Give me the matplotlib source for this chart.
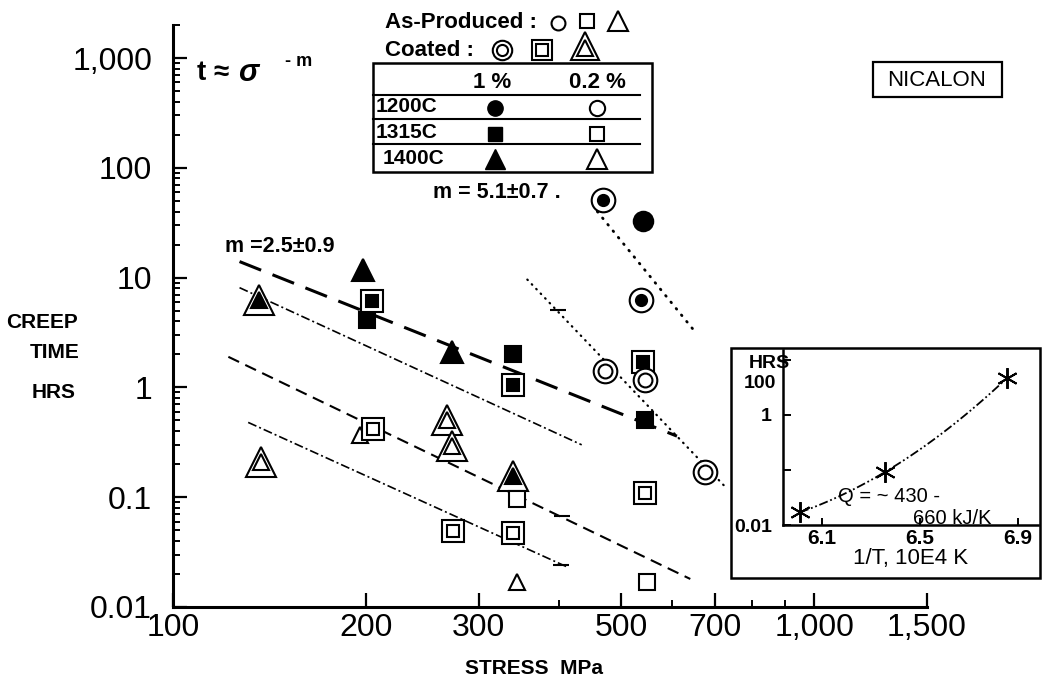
import numpy as np
import matplotlib
matplotlib.use('Agg')
import matplotlib.pyplot as plt
from matplotlib.ticker import FixedLocator, FixedFormatter, NullFormatter, LogLocator
from matplotlib.patches import Rectangle

plt.rcParams['font.family'] = ['Liberation Sans', 'DejaVu Sans']

W, H = 1043, 686

# ---------------- data (stress MPa, creep time hrs, coated flag) ----------------
# 1200C, 1 % strain (filled circles)
c1200_1_x = [541, 469, 537]
c1200_1_y = [33, 51, 6.3]
c1200_1_coated = [False, True, True]
# 1200C, 0.2 % strain (open circles)
c1200_02_x = [472, 545, 676]
c1200_02_y = [1.4, 1.18, 0.17]
c1200_02_coated = [True, True, True]
# 1315C, 1 % (filled squares)
c1315_1_x = [201, 204, 339, 339, 541, 545]
c1315_1_y = [4.1, 6.1, 2.0, 1.06, 1.7, 0.51]
c1315_1_coated = [False, True, False, True, True, False]
# 1315C, 0.2 % (open squares)
c1315_02_x = [205, 344, 273, 339, 545, 548]
c1315_02_y = [0.42, 0.096, 0.049, 0.047, 0.11, 0.017]
c1315_02_coated = [True, False, True, True, True, False]
# 1400C, 1 % (filled triangles)
c1400_1_x = [198, 272, 136, 339]
c1400_1_y = [11.8, 2.1, 6.3, 0.155]
c1400_1_coated = [False, False, True, True]
# 1400C, 0.2 % (open triangles)
c1400_02_x = [137, 196, 268, 272, 344]
c1400_02_y = [0.21, 0.37, 0.51, 0.29, 0.017]
c1400_02_coated = [True, False, True, True, False]

# fitted power-law lines (endpoints)
fit_m25_x = [127, 611];  fit_m25_y = [14, 0.36]
fit_dd1_x = [127, 434];  fit_dd1_y = [8.1, 0.30]
fit_ds_x = [122, 641];   fit_ds_y = [1.9, 0.018]
fit_dd2_x = [131, 413];  fit_dd2_y = [0.48, 0.023]
fit_m51_x = [459, 647];  fit_m51_y = [40, 3.4]
fit_dt2_x = [357, 731];  fit_dt2_y = [9.6, 0.12]
# small bar marks on lines
bar_x = [398, 405, 403]
bar_y = [5.1, 0.068, 0.024]

# inset: activation plot
inv_T = [6.01, 6.357, 6.855]
inset_hrs = [0.017, 0.092, 4.7]

x_ticks = [100, 200, 300, 500, 700, 1000, 1500]
x_ticklabels = ['100', '200', '300', '500', '700', '1,000', '1,500']
x_minor = [400, 600, 800, 900]
y_ticks = [0.01, 0.1, 1, 10, 100, 1000]
y_ticklabels = ['0.01', '0.1', '1', '10', '100', '1,000']

# ---------------- figure ----------------
fig = plt.figure(figsize=(W / 100, H / 100), dpi=100)
ax = fig.add_axes([173 / W, 1 - 607 / H, (927 - 173) / W, (607 - 25) / H], zorder=1)
ax.set_xscale('log'); ax.set_yscale('log')
ax.set_xlim(100, 1500); ax.set_ylim(0.01, 2000)
for s in ['top', 'right']:
    ax.spines[s].set_visible(False)
for s in ['left', 'bottom']:
    ax.spines[s].set_linewidth(2.2)
ax.xaxis.set_major_locator(FixedLocator(x_ticks))
ax.xaxis.set_major_formatter(FixedFormatter(x_ticklabels))
ax.xaxis.set_minor_locator(FixedLocator(x_minor))
ax.xaxis.set_minor_formatter(NullFormatter())
ax.yaxis.set_major_locator(FixedLocator(y_ticks))
ax.yaxis.set_major_formatter(FixedFormatter(y_ticklabels))
ax.yaxis.set_minor_locator(LogLocator(base=10, subs=np.arange(2, 10)))
ax.yaxis.set_minor_formatter(NullFormatter())
ax.tick_params(axis='both', which='major', direction='in', length=10, width=1.6, labelsize=23)
ax.tick_params(axis='both', which='minor', direction='in', length=5, width=1.4)
ax.tick_params(axis='x', which='major', pad=4)
ax.tick_params(axis='y', which='major', pad=15)

# lines
ax.plot(fit_m25_x, fit_m25_y, color='black', lw=2.2, dashes=(7.6, 4), zorder=2)
ax.plot(fit_dd1_x, fit_dd1_y, color='black', lw=1.2, dashes=(5.4, 1.8, 1.2, 1.8), zorder=2)
ax.plot(fit_ds_x, fit_ds_y, color='black', lw=1.5, dashes=(5.7, 3.3), zorder=2)
ax.plot(fit_dd2_x, fit_dd2_y, color='black', lw=1.2, dashes=(5.4, 1.8, 1.2, 1.8), zorder=2)
ax.plot(fit_m51_x, fit_m51_y, color='black', lw=2.0, dashes=(0.3, 2.7), dash_capstyle='round', zorder=2)
ax.plot(fit_dt2_x, fit_dt2_y, color='black', lw=1.6, dashes=(0.3, 2.6), dash_capstyle='round', zorder=2)
ax.plot(bar_x, bar_y, ls='none', marker='_', ms=11, mew=1.5, color='black', zorder=2)


def draw_series(xs, ys, coated, marker, filled, ms_plain, ms_outer, ms_inner):
    xs = np.asarray(xs, float); ys = np.asarray(ys, float); c = np.asarray(coated, bool)
    fc = 'black' if filled else 'white'
    ax.plot(xs[~c], ys[~c], ls='none', marker=marker, ms=ms_plain, mfc=fc, mec='black', mew=1.5, zorder=4)
    ax.plot(xs[c], ys[c], ls='none', marker=marker, ms=ms_outer, mfc='white', mec='black', mew=1.5, zorder=4)
    ax.plot(xs[c], ys[c], ls='none', marker=marker, ms=ms_inner, mfc=fc, mec='black', mew=1.5, zorder=4)


draw_series(c1400_1_x, c1400_1_y, c1400_1_coated, '^', True, 16, 21, 11)
draw_series(c1400_02_x, c1400_02_y, c1400_02_coated, '^', False, 12, 21, 12)
draw_series(c1315_1_x, c1315_1_y, c1315_1_coated, 's', True, 12, 16, 8)
draw_series(c1315_02_x, c1315_02_y, c1315_02_coated, 's', False, 11, 16, 9)
draw_series(c1200_1_x, c1200_1_y, c1200_1_coated, 'o', True, 14, 17, 8)
draw_series(c1200_02_x, c1200_02_y, c1200_02_coated, 'o', False, 12, 17, 10)

# ---------------- overlay (figure pixel coordinates) ----------------
ov = fig.add_axes([0, 0, 1, 1], zorder=5)
ov.set_xlim(0, W); ov.set_ylim(H, 0); ov.axis('off')

ov.text(197, 73, 't ≈ ', fontsize=20, fontweight='bold', va='center', ha='left')
ov.text(238, 73, 'σ', fontsize=22, fontweight='bold', fontstyle='italic', va='center', ha='left')
ov.text(285, 62, '- m', fontsize=13, fontweight='bold', va='center', ha='left')
ov.text(225, 247, 'm =2.5±0.9', fontsize=15.5, fontweight='bold', va='center', ha='left')
ov.text(433, 192, 'm = 5.1±0.7 .', fontsize=15.5, fontweight='bold', va='center', ha='left')

ov.text(42, 323, 'CREEP', fontsize=15, fontweight='bold', ha='center', va='center')
ov.text(55, 352, 'TIME', fontsize=15, fontweight='bold', ha='center', va='center')
ov.text(54, 393, 'HRS', fontsize=15, fontweight='bold', ha='center', va='center')
ov.text(465, 668, 'STRESS  MPa', fontsize=15, fontweight='bold', ha='left', va='center')

# NICALON box
ov.add_patch(Rectangle((873, 62), 129, 35, fill=False, lw=1.6, ec='black'))
ov.text(937, 80, 'NICALON', fontsize=16, ha='center', va='center')

# legend header
ov.text(385, 22, 'As-Produced :', fontsize=16, fontweight='bold', ha='left', va='center')
ov.text(385, 50, 'Coated :', fontsize=16, fontweight='bold', ha='left', va='center')
kw = dict(ls='none', mec='black', mew=1.5, mfc='white')
ov.plot([558], [23], marker='o', ms=10, **kw)
ov.plot([587], [21], marker='s', ms=10, **kw)
ov.plot([618], [21], marker='^', ms=14, **kw)
ov.plot([502], [50], marker='o', ms=14, **kw)
ov.plot([502], [50], marker='o', ms=8, **kw)
ov.plot([542], [50], marker='s', ms=14, **kw)
ov.plot([542], [50], marker='s', ms=8, **kw)
ov.plot([585], [46], marker='^', ms=20, **kw)
ov.plot([585], [48], marker='^', ms=11, **kw)

# legend table
ov.add_patch(Rectangle((373, 63), 652 - 373, 172 - 63, fill=False, lw=1.8, ec='black'))
for yy in [95, 119, 144]:
    ov.plot([373, 640], [yy, yy], color='black', lw=1.5)
ov.text(492, 83, '1 %', fontsize=16, fontweight='bold', ha='center', va='center')
ov.text(597, 83, '0.2 %', fontsize=16, fontweight='bold', ha='center', va='center')
ov.text(376, 107, '1200C', fontsize=15, fontweight='bold', ha='left', va='center')
ov.text(376, 133, '1315C', fontsize=15, fontweight='bold', ha='left', va='center')
ov.text(383, 159, '1400C', fontsize=15, fontweight='bold', ha='left', va='center')
ov.plot([495], [108], marker='o', ms=11, ls='none', mfc='black', mec='black')
ov.plot([597], [108], marker='o', ms=11, **kw)
ov.plot([495], [134], marker='s', ms=10, ls='none', mfc='black', mec='black')
ov.plot([597], [134], marker='s', ms=10, **kw)
ov.plot([495], [159], marker='^', ms=15, ls='none', mfc='black', mec='black')
ov.plot([597], [159], marker='^', ms=15, **kw)

# inset frame
ov.add_patch(Rectangle((731, 348), 1040 - 731, 578 - 348, fc='white', ec='black', lw=1.8))
ov.text(769, 364, 'HRS', fontsize=14, fontweight='bold', ha='center', va='center')
ov.text(760, 383, '100', fontsize=14, fontweight='bold', ha='center', va='center')
ov.text(838, 497, 'Q = ~ 430 -', fontsize=14.5, ha='left', va='center')
ov.text(913, 518, '660 kJ/K', fontsize=14.5, ha='left', va='center')

# ---------------- inset axes ----------------
ins = fig.add_axes([783 / W, 1 - 525 / H, (1038 - 783) / W, (525 - 350) / H], zorder=6)
ins.patch.set_alpha(0)
ins.set_yscale('log')
ins.set_xlim(6.1 - 39 / 245, 6.1 + 216 / 245)
ins.set_ylim(0.01, 10 ** (-2 + 175 / 55))
for s in ['top', 'right']:
    ins.spines[s].set_visible(False)
for s in ['left', 'bottom']:
    ins.spines[s].set_linewidth(1.8)
ins.set_xticks([6.1, 6.5, 6.9])
ins.set_xticklabels(['6.1', '6.5', '6.9'], fontsize=15, fontweight='bold')
ins.yaxis.set_major_locator(FixedLocator([0.01, 0.1, 1, 10]))
ins.yaxis.set_major_formatter(FixedFormatter(['0.01', '', '1', '']))
ins.yaxis.set_minor_locator(FixedLocator([]))
for lab in ins.get_yticklabels():
    lab.set_fontweight('bold')
ins.tick_params(axis='y', which='major', direction='in', length=6, width=1.4, labelsize=14, pad=8)
ins.tick_params(axis='x', which='major', direction='in', length=5, width=1.4, pad=3)
ins.set_xlabel('1/T, 10E4 K', fontsize=16, labelpad=0)

coef = np.polyfit(inv_T, np.log10(inset_hrs), 2)
xx = np.linspace(inv_T[0], inv_T[-1], 100)
ins.plot(xx, 10 ** np.polyval(coef, xx), color='black', lw=1.3, dashes=(5, 1.5, 1, 1.5, 1, 1.5))
ins.plot(inv_T, inset_hrs, ls='none', marker=(6, 2, 0), ms=15, mew=1.4, color='black')

fig.savefig('out.png', dpi=100)
